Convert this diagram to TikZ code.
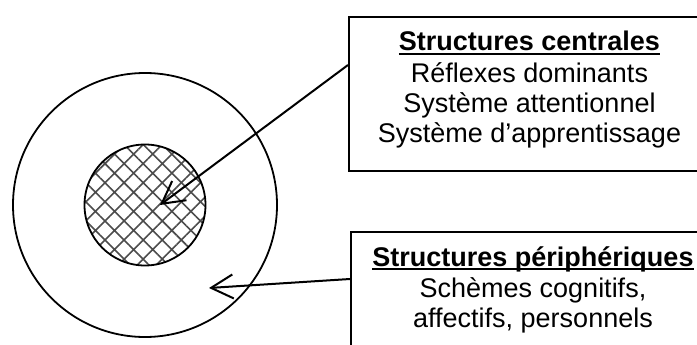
\documentclass[tikz,border=0pt]{standalone}
\usepackage{fontspec}
\setmainfont{Liberation Sans}
\usetikzlibrary{positioning, arrows.meta, patterns.meta}
\newcommand{\souligne}[1]{\setbox0\hbox{#1}\rlap{\rule[-4pt]{\wd0}{2pt}}\box0}
\tikzset{
    x=1pt, y=-1pt, % one unit per pixel, y going down
    cercle/.style={circle, draw, line width=1.8pt, inner sep=0pt}, % the two rings
    cadre/.style={draw, line width=2pt, inner sep=0pt}, % the two boxes
    texte/.style={align=center, inner sep=0pt, font=\fontsize{27}{30}\selectfont}, % text in the boxes
    fleche/.style={-{Straight Barb[length=22pt, width=24pt]}, line width=2pt}, % open arrow heads
}

\begin{document}
\begin{tikzpicture}
    \useasboundingbox (0,0) rectangle (697,345);
    \node[cercle, minimum size=264pt] (couronne) at (145,205) {};
    \node[cercle, minimum size=121pt, pattern={Hatch[angle=45, distance=13.5pt, line width=1.6pt]}, pattern color=black!70] (noyau) at (145,205) {};
    \node[cadre, anchor=north west, minimum width=361pt, minimum height=154pt] (centrales) at (348,16) {};
    \node[cadre, anchor=north west, minimum width=364pt, minimum height=140pt] (peri) at (350,231) {};
    \node[texte, below=15pt of centrales.north] (centralestxt) {{\bfseries\souligne{Structures centrales}}\\[2pt]
        Réflexes dominants\\ Système attentionnel\\ Système d’apprentissage};
    \node[texte, below=15pt of peri.north] (peritxt) {{\bfseries\souligne{Structures périphériques}}\\[1pt]
        Schèmes cognitifs,\\ affectifs, personnels};
    \draw[fleche] ([yshift=29pt]centrales.west) -- ([xshift=15pt]noyau.center);
    \draw[fleche] ([yshift=-48pt]peri.north west) -- ([xshift=64pt, yshift=-83pt]couronne.center);
\end{tikzpicture}
\end{document}
